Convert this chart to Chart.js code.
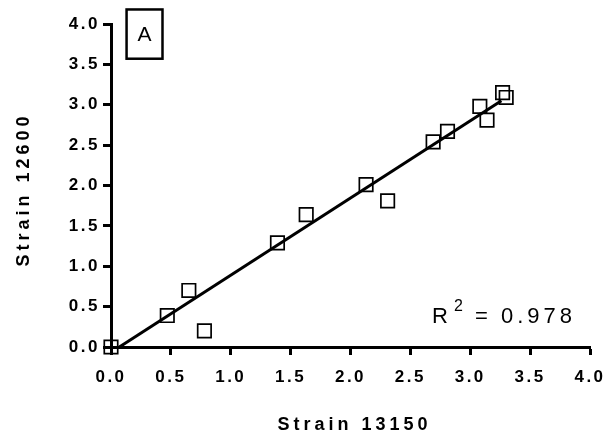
<!DOCTYPE html>
<html>
<head>
<meta charset="utf-8">
<script src="https://cdn.jsdelivr.net/npm/chart.js@4"></script>
<style>
  html, body { margin: 0; padding: 0; background: #ffffff; }
  #wrap { width: 614px; height: 439px; position: relative; }
</style>
</head>
<body>
<div id="wrap"><canvas id="c"></canvas></div>
<script>
// ---- data ----
const strain13150 = [0.00, 0.47, 0.65, 0.78, 1.39, 1.63, 2.13, 2.31, 2.69, 2.81, 3.08, 3.14, 3.27, 3.30];
const strain12600 = [0.00, 0.39, 0.70, 0.20, 1.29, 1.64, 2.01, 1.81, 2.54, 2.67, 2.98, 2.81, 3.15, 3.09];
const fitX = [0.07, 3.26];
const fitY = [0.00, 3.05];
const tickValues = [0.0, 0.5, 1.0, 1.5, 2.0, 2.5, 3.0, 3.5, 4.0];
const tickLabels = ['0.0', '0.5', '1.0', '1.5', '2.0', '2.5', '3.0', '3.5', '4.0'];
const xTitle = 'Strain 13150';
const yTitle = 'Strain 12600';
const panelLabel = 'A';
const r2Value = '0.978';

const FONT = "'Liberation Sans', Arial, sans-serif";

function patchScale(s, tickLS, titleLS, tdx, tdy) {
  if (s._lsPatched) return;
  s._lsPatched = true;
  const dl = s.drawLabels, dt = s.drawTitle;
  s.drawLabels = function (ca) {
    const ctx = this.ctx; ctx.save(); ctx.letterSpacing = tickLS; dl.call(this, ca); ctx.restore();
  };
  s.drawTitle = function (ca) {
    const ctx = this.ctx; ctx.save(); ctx.letterSpacing = titleLS; ctx.translate(tdx, tdy); dt.call(this, ca); ctx.restore();
  };
}

const annotPlugin = {
  id: 'annot',
  afterDraw(chart) {
    const ctx = chart.ctx;
    const xs = chart.scales.x, ys = chart.scales.y;
    ctx.save();
    // panel label box
    const bx1 = xs.getPixelForValue(0.13), bx2 = xs.getPixelForValue(0.43);
    const by1 = ys.getPixelForValue(4.18), by2 = ys.getPixelForValue(3.57);
    ctx.lineWidth = 2.5;
    ctx.strokeStyle = '#000';
    ctx.strokeRect(bx1, by1, bx2 - bx1, by2 - by1);
    ctx.letterSpacing = '0px';
    ctx.fillStyle = '#000';
    ctx.font = "21px " + FONT;
    ctx.textAlign = 'center';
    ctx.textBaseline = 'middle';
    ctx.fillText(panelLabel, (bx1 + bx2) / 2, (by1 + by2) / 2 + 1);
    // R^2 text
    ctx.letterSpacing = '4px';
    ctx.textAlign = 'left';
    ctx.textBaseline = 'alphabetic';
    const x0 = xs.getPixelForValue(2.68);
    const y = ys.getPixelForValue(0.30);
    ctx.font = "22px " + FONT;
    ctx.fillText('R', x0, y);
    ctx.font = "16px " + FONT;
    ctx.fillText('2', x0 + 22, y - 12);
    ctx.font = "22px " + FONT;
    ctx.fillText('=', x0 + 43, y);
    ctx.fillText(r2Value, x0 + 69, y);
    ctx.restore();
  }
};

new Chart(document.getElementById('c'), {
  type: 'scatter',
  data: {
    datasets: [
      {
        label: 'fit',
        type: 'line',
        data: fitX.map((v, i) => ({ x: v, y: fitY[i] })),
        borderColor: '#000',
        borderWidth: 3,
        pointRadius: 0,
        fill: false,
        clip: false
      },
      {
        label: 'data',
        data: strain13150.map((v, i) => ({ x: v, y: strain12600[i] })),
        pointStyle: 'rect',
        pointRadius: 9.5,
        pointHoverRadius: 9.5,
        pointBorderWidth: 1.7,
        borderColor: '#000',
        backgroundColor: 'rgba(0,0,0,0)',
        clip: false
      }
    ]
  },
  options: {
    responsive: true,
    maintainAspectRatio: false,
    animation: false,
    events: [],
    layout: { padding: { top: 24, right: 24, left: 0, bottom: 0 } },
    plugins: { legend: { display: false }, tooltip: { enabled: false } },
    scales: {
      x: {
        type: 'linear', min: 0, max: 4,
        afterBuildTicks(s) { s.ticks = tickValues.map(v => ({ value: v })); },
        afterFit(s) { s.height = 92; patchScale(s, '2.5px', '4px', 4, 0); },
        grid: { drawOnChartArea: false, drawTicks: true, tickLength: 8, tickWidth: 3, tickColor: '#000' },
        border: { display: true, color: '#000', width: 3 },
        ticks: {
          color: '#000', padding: 12, maxRotation: 0, autoSkip: false,
          font: { family: FONT, size: 17, weight: 'bold' },
          callback: (v) => tickLabels[tickValues.indexOf(v)]
        },
        title: {
          display: true, text: xTitle, color: '#000',
          font: { family: FONT, size: 18, weight: 'bold' },
          padding: { top: 0, bottom: 3 }
        }
      },
      y: {
        type: 'linear', min: 0, max: 4,
        afterBuildTicks(s) { s.ticks = tickValues.map(v => ({ value: v })); },
        afterFit(s) { s.width = 111; patchScale(s, '2.5px', '4px', 0, 4); },
        grid: { drawOnChartArea: false, drawTicks: true, tickLength: 8, tickWidth: 3, tickColor: '#000' },
        border: { display: true, color: '#000', width: 3 },
        ticks: {
          color: '#000', padding: 3, autoSkip: false,
          font: { family: FONT, size: 17, weight: 'bold' },
          callback: (v) => tickLabels[tickValues.indexOf(v)]
        },
        title: {
          display: true, text: yTitle, color: '#000',
          font: { family: FONT, size: 18, weight: 'bold' },
          padding: { top: 13, bottom: 0 }
        }
      }
    }
  },
  plugins: [annotPlugin]
});
</script>
</body>
</html>
